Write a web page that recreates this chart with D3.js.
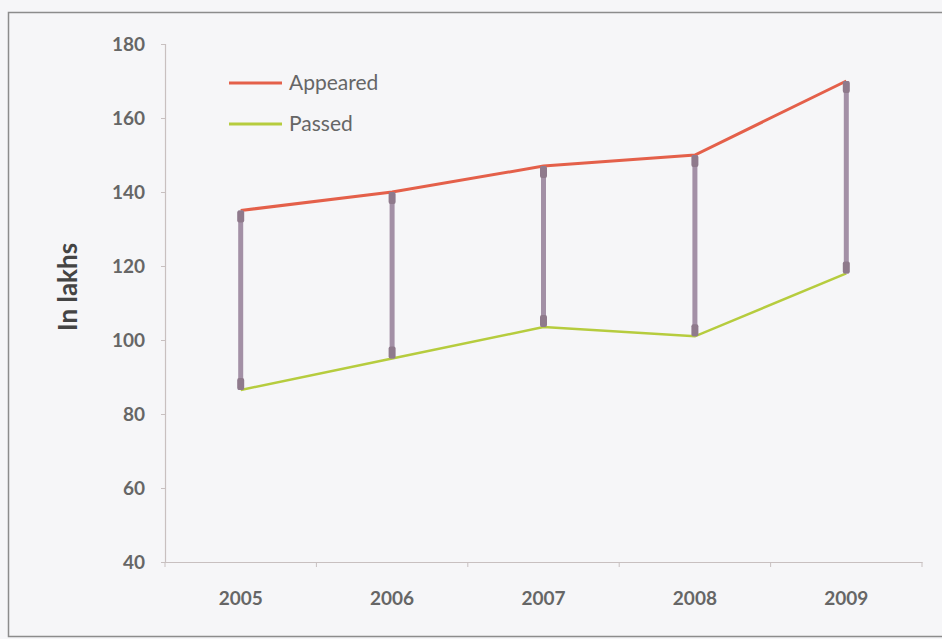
<!DOCTYPE html>
<html><head><meta charset="utf-8">
<script src="https://cdn.jsdelivr.net/npm/d3@7"></script>
<style>
html,body{margin:0;padding:0;background:#f6f6f8;}
svg{display:block;}
</style></head>
<body>
<svg id="chart" width="942" height="639"></svg>
<script>
const years = ["2005","2006","2007","2008","2009"];
const appeared = [135, 140, 147, 150, 170];
const passed = [86.5, 95, 103.5, 101, 118];
const yTicks = [40, 60, 80, 100, 120, 140, 160, 180];
const seriesNames = ["Appeared", "Passed"];

const svg = d3.select("#chart");
const font = "Lato, 'Open Sans', sans-serif";

// outer frame
svg.append("rect").attr("x", 8.5).attr("y", 12.5).attr("width", 940).attr("height", 624)
  .attr("fill", "#f6f6f8").attr("stroke", "#8c8c8c").attr("stroke-width", 1.5);

const x = d3.scaleBand().domain(years).range([165, 922]);
const y = d3.scaleLinear().domain([40, 180]).range([562, 44]);

// y axis
const yAxis = svg.append("g").attr("transform", "translate(165,0)")
  .call(d3.axisLeft(y).tickValues(yTicks).tickSize(4).tickPadding(16));
yAxis.select(".domain").attr("stroke", "#c8c0c0").attr("stroke-width", 1.2);
yAxis.selectAll(".tick line").attr("stroke", "#c8c0c0");
yAxis.selectAll("text").attr("font-family", font).attr("font-size", 19).attr("font-weight", "bold").attr("fill", "#666");

// x axis
const xAxis = svg.append("g").attr("transform", "translate(0,562)")
  .call(d3.axisBottom(x).tickSize(0).tickPadding(30));
xAxis.select(".domain").attr("stroke", "#c8c0c0").attr("stroke-width", 1.2);
xAxis.selectAll("text").attr("font-family", font).attr("font-size", 19).attr("font-weight", "bold").attr("fill", "#666");
// category boundary ticks
const bounds = years.map(d => x(d)).concat([x.range()[1]]);
svg.append("g").selectAll("line").data(bounds).join("line")
  .attr("x1", d => d).attr("x2", d => d).attr("y1", 562).attr("y2", 567)
  .attr("stroke", "#c8c0c0").attr("stroke-width", 1);

const cx = d => x(d) + x.bandwidth() / 2;

// lines
const line = d3.line().x(d => cx(d.year)).y(d => y(d.v));
svg.append("path").datum(years.map((yr, i) => ({year: yr, v: passed[i]})))
  .attr("d", line).attr("fill", "none").attr("stroke", "#b6cc3e").attr("stroke-width", 2.5);
svg.append("path").datum(years.map((yr, i) => ({year: yr, v: appeared[i]})))
  .attr("d", line).attr("fill", "none").attr("stroke", "#e4604a").attr("stroke-width", 3);

// high-low bars
const hl = svg.append("g");
years.forEach((yr, i) => {
  const xp = cx(yr);
  hl.append("line").attr("x1", xp).attr("x2", xp)
    .attr("y1", y(appeared[i])).attr("y2", y(passed[i]))
    .attr("stroke", "#a390a6").attr("stroke-width", 5);
  hl.append("rect").attr("x", xp - 3.5).attr("y", y(appeared[i])).attr("width", 7).attr("height", 12)
    .attr("rx", 2).attr("fill", "#8f7a8c");
  hl.append("rect").attr("x", xp - 3.5).attr("y", y(passed[i]) - 12).attr("width", 7).attr("height", 12)
    .attr("rx", 2).attr("fill", "#8f7a8c");
});

// legend
const legColors = ["#e4604a", "#b6cc3e"];
const leg = svg.append("g");
seriesNames.forEach((n, i) => {
  const ly = 83 + i * 41;
  leg.append("line").attr("x1", 229).attr("x2", 282).attr("y1", ly).attr("y2", ly)
    .attr("stroke", legColors[i]).attr("stroke-width", 3);
  leg.append("text").attr("x", 289).attr("y", ly + 7).text(n)
    .attr("font-family", font).attr("font-size", 21).attr("fill", "#666");
});

// y label
svg.append("text").attr("transform", "translate(77,287) rotate(-90)")
  .attr("text-anchor", "middle").text("In lakhs")
  .attr("font-family", font).attr("font-size", 26).attr("font-weight", "bold").attr("fill", "#444");
</script>
</body></html>
